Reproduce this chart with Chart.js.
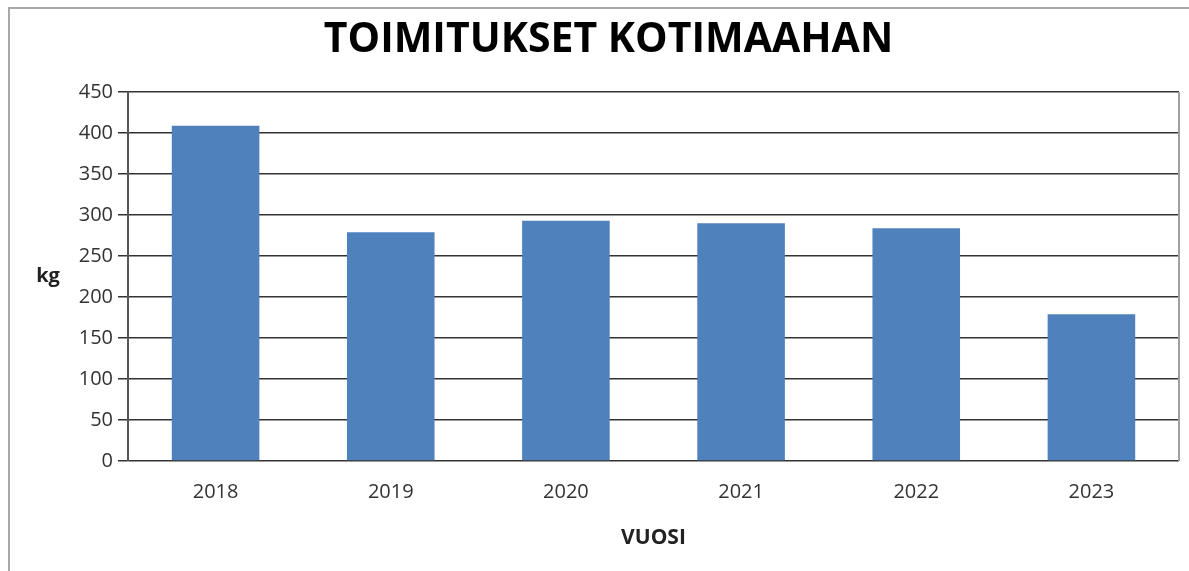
<!DOCTYPE html>
<html>
<head>
<meta charset="utf-8">
<script src="https://cdn.jsdelivr.net/npm/chart.js@4/dist/chart.umd.min.js"></script>
<style>
  html, body { margin: 0; padding: 0; background: #fff; }
  #frame {
    position: absolute; left: 8px; top: 7px; width: 1300px; height: 700px;
    border-left: 2px solid #a8a8a8; border-top: 2px solid #a8a8a8;
  }
  #wrap { position: absolute; left: 0; top: 0; width: 1189px; height: 571px; }
</style>
</head>
<body>
<div id="frame"></div>
<div id="wrap"><canvas id="chart"></canvas></div>
<script>
const years = ['2018', '2019', '2020', '2021', '2022', '2023'];
const deliveries = [409, 279, 293, 290, 284, 179];
const chartTitle = 'TOIMITUKSET KOTIMAAHAN';
const yUnit = 'kg';
const xTitle = 'VUOSI';

// horizontal "kg" label left of the y axis, plus the grey right edge of the plot
const extras = {
   id: 'extras',
   afterDraw(chart) {
      const { ctx, chartArea } = chart;
      ctx.save();
      ctx.strokeStyle = '#a0a0a0';
      ctx.lineWidth = 2;
      ctx.beginPath();
      ctx.moveTo(chartArea.right, chartArea.top);
      ctx.lineTo(chartArea.right, chartArea.bottom);
      ctx.stroke();
      ctx.fillStyle = '#222';
      ctx.font = 'bold 20px "Open Sans"';
      ctx.textAlign = 'center';
      ctx.textBaseline = 'middle';
      ctx.fillText(yUnit, 48, (chartArea.top + chartArea.bottom) / 2);
      ctx.restore();
   }
};

new Chart(document.getElementById('chart').getContext('2d'), {
   type: 'bar',
   data: {
      labels: years,
      datasets: [
         {
            label: 'Toimitukset',
            data: deliveries,
            backgroundColor: '#4f81bd',
            borderColor: '#4f81bd',
            borderWidth: 0,
            categoryPercentage: 1,
            barPercentage: 0.5,
         },
      ],
   },
   options: {
      responsive: true,
      maintainAspectRatio: false,
      animation: false,
      layout: { padding: { left: 38, right: 10, top: 4, bottom: 20 } },
      plugins: {
         legend: { display: false },
         tooltip: { enabled: false },
         title: {
            display: true,
            text: chartTitle,
            color: '#000',
            font: { family: 'Open Sans', size: 41, weight: 'bold' },
            padding: { top: 12, bottom: 27 },
         },
      },
      scales: {
         x: {
            type: 'category',
            grid: { display: false, drawTicks: false },
            border: { display: false },
            ticks: {
               color: '#333',
               padding: 19,
               font: { family: 'Open Sans', size: 20 },
            },
            title: {
               display: true,
               text: xTitle,
               color: '#222',
               padding: { top: 0, bottom: 0 },
               font: { family: 'Open Sans', size: 21, weight: 'bold' },
            },
            afterFit(scale) { scale.height = 90; },
         },
         y: {
            min: 0,
            max: 450,
            ticks: {
               stepSize: 50,
               color: '#333',
               padding: 5,
               font: { family: 'Open Sans', size: 20 },
            },
            grid: {
               color: '#333',
               lineWidth: 1.5,
               tickLength: 10,
            },
            border: { display: true, color: '#555', width: 2 },
            afterFit(scale) { scale.width = 90; },
         },
      },
   },
   plugins: [extras],
});
</script>
</body>
</html>
